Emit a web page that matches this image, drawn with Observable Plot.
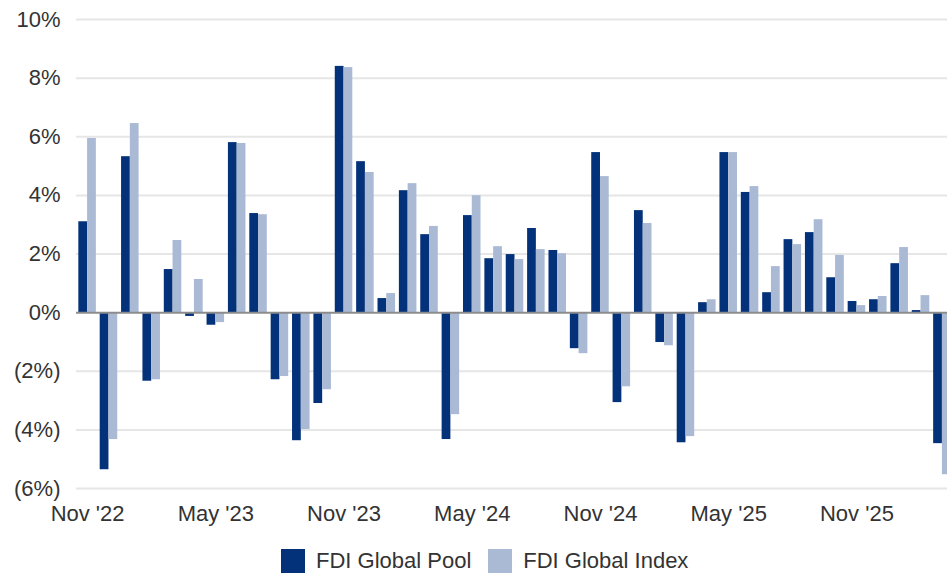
<!DOCTYPE html>
<html>
<head>
<meta charset="utf-8">
<script src="https://cdn.jsdelivr.net/npm/d3@7"></script>
<script src="https://cdn.jsdelivr.net/npm/@observablehq/plot@0.6"></script>
<style>
  html, body { margin: 0; padding: 0; background: #fff; overflow: hidden; }
  #chart svg { display: block; }
  .legend { display: flex; align-items: center; padding-left: 281px; margin-top: 9px; height: 24px;
            font: 22px "Liberation Sans", Arial, sans-serif; color: #333; }
  .legend .sw { width: 24px; height: 24px; margin-right: 11px; }
  .legend .item { display: flex; align-items: center; margin-right: 17px; }
</style>
</head>
<body>
<div id="chart"></div>
<div class="legend" id="legend"></div>
<script>
const months = ["Nov '22","Dec '22","Jan '23","Feb '23","Mar '23","Apr '23","May '23","Jun '23","Jul '23","Aug '23","Sep '23","Oct '23",
  "Nov '23","Dec '23","Jan '24","Feb '24","Mar '24","Apr '24","May '24","Jun '24","Jul '24","Aug '24","Sep '24","Oct '24",
  "Nov '24","Dec '24","Jan '25","Feb '25","Mar '25","Apr '25","May '25","Jun '25","Jul '25","Aug '25","Sep '25","Oct '25",
  "Nov '25","Dec '25","Jan '26","Feb '26","Mar '26"];
const poolValues = [3.10,-5.36,5.32,-2.34,1.47,-0.13,-0.43,5.80,3.38,-2.29,-4.37,-3.10,
  8.40,5.15,0.48,4.16,2.66,-4.33,3.31,1.84,1.98,2.87,2.12,-1.23,
  5.46,-3.07,3.48,-1.02,-4.44,0.34,5.46,4.10,0.68,2.49,2.73,1.19,
  0.38,0.44,1.67,0.07,-4.47];
const indexValues = [5.94,-4.33,6.45,-2.29,2.46,1.13,-0.34,5.77,3.34,-2.18,-3.99,-2.63,
  8.36,4.78,0.65,4.40,2.94,-3.48,3.99,2.25,1.81,2.15,2.01,-1.40,
  4.64,-2.53,3.04,-1.13,-4.23,0.44,5.46,4.30,1.57,2.32,3.17,1.95,
  0.24,0.55,2.22,0.58,-5.53];
const seriesNames = ["FDI Global Pool", "FDI Global Index"];
const seriesColors = ["#04327a", "#aabad4"];
const xTickLabels = ["Nov '22","May '23","Nov '23","May '24","Nov '24","May '25","Nov '25"];
const yTicks = [-6,-4,-2,0,2,4,6,8,10];

const poolData = months.map((m, i) => ({month: m, value: poolValues[i]}));
const indexData = months.map((m, i) => ({month: m, value: indexValues[i]}));

const xOpts = {type: "band", domain: months, range: [76.4, 952.6], paddingInner: 0.18, paddingOuter: 0.09, round: false};
const bw = Plot.scale({x: xOpts}).bandwidth;

const fmt = v => v < 0 ? `(${Math.abs(v)}%)` : `${v}%`;

const chart = Plot.plot({
  width: 947,
  height: 540,
  marginTop: 19,
  marginBottom: 52,
  marginLeft: 76,
  marginRight: 0,
  style: {fontSize: "22px", fontFamily: "'Liberation Sans', Arial, sans-serif", color: "#333", background: "#fff", overflow: "hidden"},
  x: {...xOpts, tickSize: 0, tickPadding: 17, label: null, tickFormat: d => xTickLabels.includes(d) ? d : ""},
  y: {domain: [-6, 10], ticks: yTicks, tickFormat: fmt, tickSize: 0, tickPadding: 16, label: null},
  marks: [
    Plot.ruleY(yTicks.filter(d => d !== 0), {stroke: "#e6e6e6", strokeWidth: 2}),
    Plot.barY(poolData, {x: "month", y: "value", fill: seriesColors[0], insetRight: bw / 2}),
    Plot.barY(indexData, {x: "month", y: "value", fill: seriesColors[1], insetLeft: bw / 2}),
    Plot.ruleY([0], {stroke: "#8c8c8c", strokeWidth: 2})
  ]
});
document.getElementById("chart").appendChild(chart);

const legend = document.getElementById("legend");
seriesNames.forEach((name, i) => {
  const item = document.createElement("div");
  item.className = "item";
  const sw = document.createElement("div");
  sw.className = "sw";
  sw.style.background = seriesColors[i];
  const label = document.createElement("span");
  label.textContent = name;
  item.appendChild(sw);
  item.appendChild(label);
  legend.appendChild(item);
});
</script>
</body>
</html>
